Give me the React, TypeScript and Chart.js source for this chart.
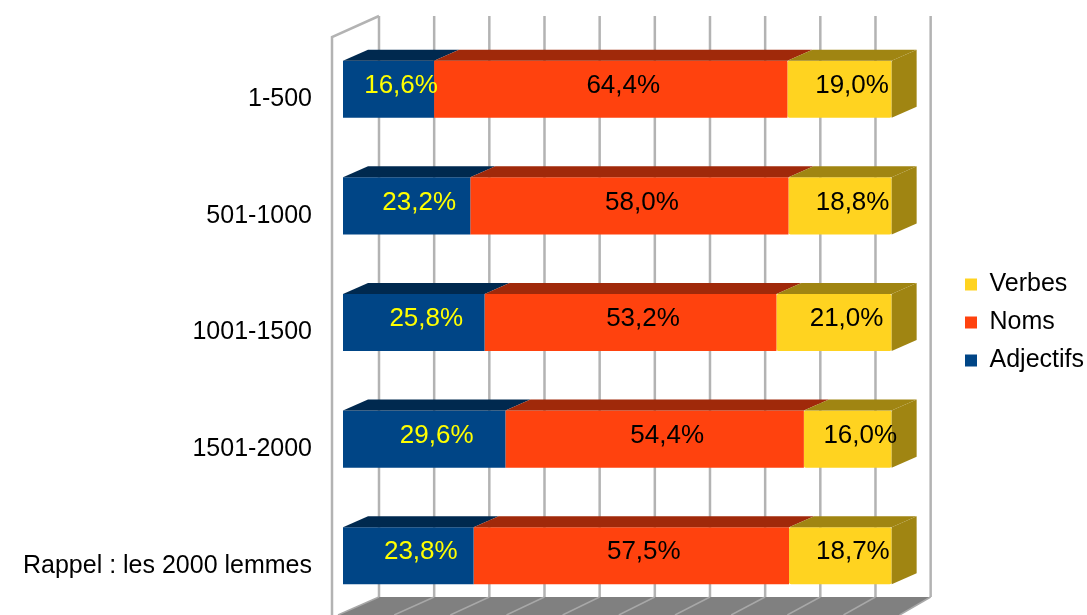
import React, { useEffect, useRef } from 'react';
import { Chart, registerables } from 'chart.js';

Chart.register(...registerables);

const categories = ['1-500', '501-1000', '1001-1500', '1501-2000', 'Rappel : les 2000 lemmes'];
const adjectifs = [16.6, 23.2, 25.8, 29.6, 23.8];
const noms = [64.4, 58.0, 53.2, 54.4, 57.5];
const verbes = [19.0, 18.8, 21.0, 16.0, 18.7];
const gridValues = [0, 10, 20, 30, 40, 50, 60, 70, 80, 90, 100];

const FRONT = ['#004586', '#ff420e', '#ffd320'];
const SHADE = ['#00294f', '#a0290a', '#a08512'];
const LABEL_COLORS = ['#ffff00', '#000000', '#000000'];
const FONT = '"Liberation Sans", Arial, sans-serif';
const DX = 25;
const DY = 11;

const fmt = (v: number) => v.toFixed(1).replace('.', ',') + '%';

const box3d = {
  id: 'box3d',
  beforeDatasetsDraw(chart: any) {
    const { ctx, chartArea, scales } = chart;
    const x = scales.x;
    const backDx = 36;
    const topY = chartArea.top - 15;
    const floorY = chartArea.bottom - 17;
    const bottomY = chart.height;
    const f0 = x.getPixelForValue(0);
    const f100 = x.getPixelForValue(100);
    const bl = f0 + backDx;
    const br = f100 + backDx + 3;
    const fl = f0 - 5;
    const fr = f100 + 8;
    ctx.save();
    // floor
    ctx.fillStyle = '#808080';
    ctx.beginPath();
    ctx.moveTo(bl, floorY);
    ctx.lineTo(br, floorY);
    ctx.lineTo(fr, bottomY);
    ctx.lineTo(fl, bottomY);
    ctx.closePath();
    ctx.fill();
    ctx.strokeStyle = '#a8a8a8';
    ctx.lineWidth = 1.5;
    gridValues.forEach((v) => {
      const bx = bl + (br - bl) * v / 100;
      const fx = fl + (fr - fl) * v / 100;
      ctx.beginPath();
      ctx.moveTo(bx, floorY);
      ctx.lineTo(fx, bottomY);
      ctx.stroke();
    });
    // back wall grid lines
    ctx.strokeStyle = '#b3b3b3';
    ctx.lineWidth = 2.5;
    gridValues.forEach((v) => {
      const bx = bl + (br - bl) * v / 100;
      ctx.beginPath();
      ctx.moveTo(bx, topY);
      ctx.lineTo(bx, floorY);
      ctx.stroke();
    });
    // left wall
    ctx.beginPath();
    ctx.moveTo(f0 - 11, bottomY);
    ctx.lineTo(f0 - 11, chartArea.top + 6);
    ctx.lineTo(bl, topY);
    ctx.stroke();
    ctx.restore();
  },
  afterDatasetsDraw(chart: any) {
    const { ctx } = chart;
    ctx.save();
    const n = chart.data.datasets.length;
    // top and side faces
    for (let d = 0; d < n; d++) {
      const meta = chart.getDatasetMeta(d);
      meta.data.forEach((el: any) => {
        const p = el.getProps(['x', 'y', 'base', 'height'], true);
        const left = Math.min(p.x, p.base);
        const right = Math.max(p.x, p.base);
        const top = p.y - p.height / 2;
        const bottom = p.y + p.height / 2;
        ctx.fillStyle = SHADE[d];
        ctx.beginPath();
        ctx.moveTo(left, top);
        ctx.lineTo(right, top);
        ctx.lineTo(right + DX, top - DY);
        ctx.lineTo(left + DX, top - DY);
        ctx.closePath();
        ctx.fill();
        if (d === n - 1) {
          ctx.beginPath();
          ctx.moveTo(right, top);
          ctx.lineTo(right + DX, top - DY);
          ctx.lineTo(right + DX, bottom - DY);
          ctx.lineTo(right, bottom);
          ctx.closePath();
          ctx.fill();
        }
      });
    }
    // value labels
    ctx.font = `26px ${FONT}`;
    ctx.textAlign = 'center';
    ctx.textBaseline = 'middle';
    for (let d = 0; d < n; d++) {
      const meta = chart.getDatasetMeta(d);
      const values = chart.data.datasets[d].data as number[];
      meta.data.forEach((el: any, i: number) => {
        const p = el.getProps(['x', 'y', 'base'], true);
        const cx = (p.x + p.base) / 2 + DX / 2;
        const cy = p.y - DY / 2 + 2;
        ctx.fillStyle = LABEL_COLORS[d];
        ctx.fillText(fmt(values[i]), cx, cy);
      });
    }
    ctx.restore();
  },
};

export default function App() {
  const canvasRef = useRef<HTMLCanvasElement | null>(null);

  useEffect(() => {
    const canvas = canvasRef.current;
    if (!canvas) return;
    Chart.defaults.font.family = FONT;
    Chart.defaults.color = '#000000';
    const chart = new Chart(canvas, {
      type: 'bar',
      data: {
        labels: categories,
        datasets: [
          { label: 'Adjectifs', data: adjectifs, backgroundColor: FRONT[0] },
          { label: 'Noms', data: noms, backgroundColor: FRONT[1] },
          { label: 'Verbes', data: verbes, backgroundColor: FRONT[2] },
        ],
      },
      options: {
        indexAxis: 'y',
        responsive: false,
        animation: false,
        layout: { padding: { top: 31, bottom: 1, left: 0, right: 0 } },
        datasets: {
          bar: {
            barPercentage: 0.49,
            categoryPercentage: 1,
            borderWidth: 0,
            borderRadius: 2,
            borderSkipped: false,
          },
        },
        scales: {
          x: {
            display: false,
            stacked: true,
            min: 0,
            max: 111,
          },
          y: {
            stacked: true,
            grid: { display: false, drawTicks: false },
            border: { display: false },
            ticks: {
              font: { size: 25, family: FONT },
              color: '#000000',
              padding: 31,
              labelOffset: 10,
              autoSkip: false,
            },
            afterFit: (scale: any) => {
              scale.width = 343;
              scale.paddingTop = 0;
              scale.paddingBottom = 0;
            },
          },
        },
        plugins: {
          legend: {
            position: 'right',
            reverse: true,
            maxWidth: 135,
            labels: {
              boxWidth: 12,
              boxHeight: 12,
              padding: 13,
              color: '#000000',
              font: { size: 25, family: FONT },
            },
          },
          tooltip: { enabled: false },
        },
      },
      plugins: [box3d],
    });
    return () => chart.destroy();
  }, []);

  return (
    <div style={{ position: 'absolute', left: 0, top: 0, width: '1087px', height: '615px' }}>
      <canvas ref={canvasRef} width={1087} height={615} style={{ display: 'block' }} />
    </div>
  );
}
